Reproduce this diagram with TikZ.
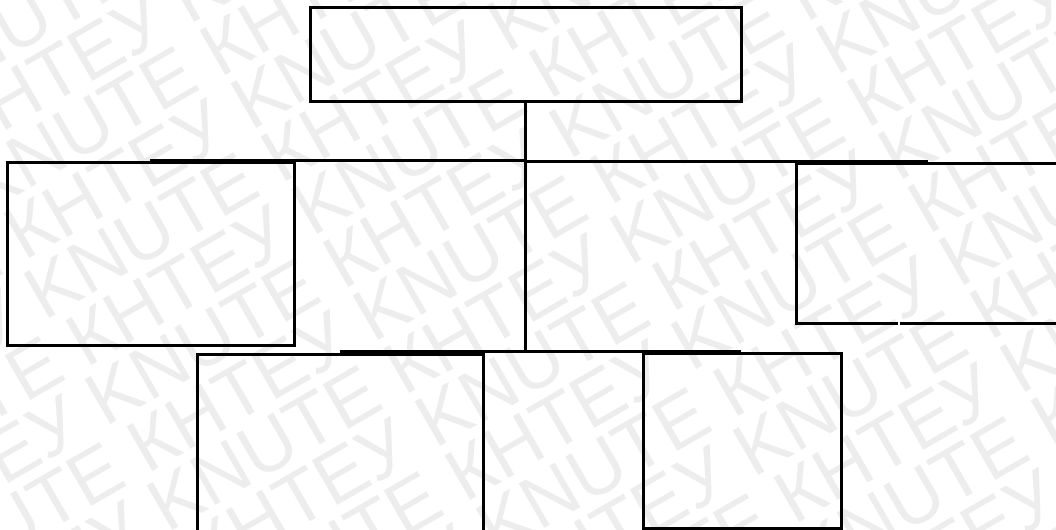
\documentclass[tikz,border=0pt]{standalone}
\usepackage{fontspec}
\newfontfamily\wmfont{Liberation Sans}
\usetikzlibrary{fit}

\def\wmA{KNUTE КНТЕУ KNUTE КНТЕУ KNUTE КНТЕУ KNUTE КНТЕУ KNUTE КНТЕУ}
\def\wmB{КНТЕУ KNUTE КНТЕУ KNUTE КНТЕУ KNUTE КНТЕУ KNUTE КНТЕУ KNUTE}
\def\wmAB{\wmA\\\wmB\\}

\begin{document}
\begin{tikzpicture}[x=0.75pt, y=-0.75pt,
  box/.style={draw, line width=2.25pt, inner sep=0pt},
  link/.style={line width=2.25pt},
  wmark/.style={font=\wmfont\fontsize{56}{46}\selectfont, text=black!7,
    rotate=30, anchor=north west, align=left, inner sep=0pt}]
  \useasboundingbox (0,0) rectangle (1056,530);
  \clip (0,0) rectangle (1056,530);

  % watermark
  \node[wmark] (wm) at (-824,409)
    {\wmAB\wmAB\wmAB\wmAB\wmAB\wmAB\wmAB\wmAB\wmAB\wmA};

  % boxes
  \node[box, fit={(310,8) (741,102)}] (head) {};
  \node[box, fit={(7,163) (294,346)}] (left) {};
  \node[box, fit={(796,164) (1120,324)}] (right) {};
  \node[box, fit={(197,355) (483,560)}] (botleft) {};
  \node[box, fit={(643,354) (841,528)}] (botright) {};
  \draw[white, line width=1.5pt] (899,320) -- (899,328);

  % tree lines
  \coordinate (lend) at (150,160.5);
  \coordinate (rend) at (928,161.5);
  \coordinate (blend) at (340,352);
  \coordinate (brend) at (741,352);
  \draw[link] (head.south) -- (head.south |- blend);
  \draw[link] (lend) -- (head.south |- lend);
  \draw[link] (head.south |- rend) -- (rend);
  \draw[link] (blend) -- (brend);
\end{tikzpicture}
\end{document}
